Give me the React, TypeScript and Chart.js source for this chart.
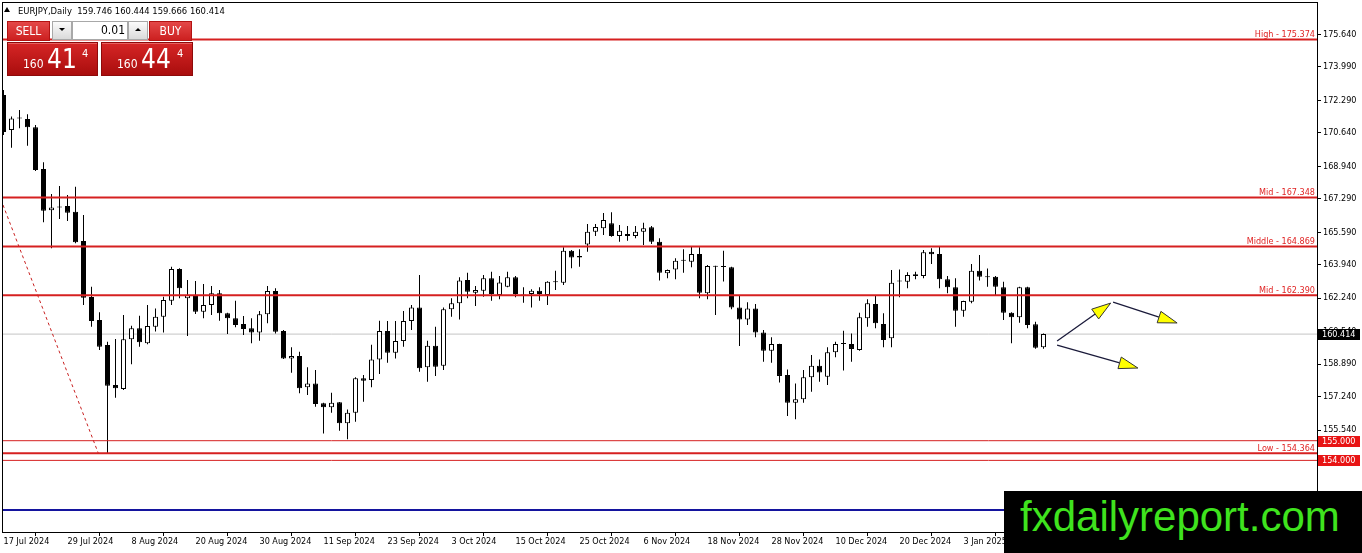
import React, { useEffect, useRef } from "react";
import { Chart, registerables } from "chart.js";

Chart.register(...registerables);

const FONT = "'DejaVu Sans Condensed', 'DejaVu Sans', sans-serif";

// ---- candle data (EURJPY daily) ----
const opens = [
  172.56, 170.78, 171.36, 171.34, 170.92, 168.8, 166.7, 166.84, 166.92, 166.63,
  165.14, 162.3, 161.13, 159.86, 157.83, 157.63, 160.15, 160.71, 159.95, 160.79,
  161.3, 162.11, 163.72, 162.23, 162.4, 161.55, 161.89, 162.49, 161.47, 161.22,
  160.93, 160.71, 160.5, 161.42, 162.6, 160.57, 159.18, 159.3, 157.71, 157.91,
  156.9, 156.7, 156.95, 155.88, 156.42, 158.17, 158.08, 159.13, 160.57, 159.47,
  160.06, 161.08, 161.77, 158.73, 159.82, 158.81, 161.67, 161.98, 163.16, 162.52,
  162.62, 163.25, 162.4, 162.82, 163.3, 162.38, 162.45, 162.62, 162.4, 163.05,
  163.02, 164.65, 164.38, 164.97, 165.61, 165.79, 166.04, 165.4, 165.5, 165.4,
  165.61, 165.84, 165.11, 163.5, 163.7, 164.14, 164.09, 164.48, 162.49, 163.84,
  163.85, 163.81, 161.77, 161.16, 161.72, 160.5, 159.57, 159.91, 158.34, 156.93,
  157.1, 158.22, 158.81, 158.25, 159.49, 159.91, 159.91, 159.61, 161.22, 161.94,
  160.93, 160.2, 163.09, 163.07, 163.37, 163.36, 164.6, 164.48, 163.2, 162.79,
  161.6, 162.06, 163.63, 163.33, 163.33, 162.79, 161.5, 161.27, 162.79, 160.91,
  159.746,
];
const highs = [
  172.81, 171.46, 171.8, 171.58, 171.03, 169.14, 167.53, 167.93, 167.48, 167.9,
  166.46, 162.82, 161.52, 160.03, 160.17, 161.38, 160.84, 161.35, 161.89, 161.72,
  162.31, 163.84, 163.76, 163.16, 163.11, 162.96, 162.86, 162.65, 161.5, 162.11,
  161.33, 161.22, 161.59, 162.86, 162.74, 160.62, 159.74, 159.52, 158.73, 158.59,
  156.93, 157.44, 156.97, 156.59, 158.22, 158.34, 159.87, 161.09, 161.08, 161.08,
  161.59, 161.89, 163.41, 160.08, 160.79, 161.77, 162.23, 163.3, 163.53, 162.86,
  163.41, 163.58, 163.36, 163.58, 163.36, 162.79, 162.69, 162.79, 163.1, 163.63,
  164.82, 164.68, 164.72, 166.01, 166.01, 166.56, 166.6, 165.95, 165.9, 165.9,
  166.07, 165.9, 165.28, 163.7, 164.26, 164.72, 164.89, 164.82, 163.92, 163.88,
  164.65, 163.84, 162.35, 162.03, 161.94, 160.62, 160.25, 159.93, 158.62, 157.91,
  158.59, 159.35, 159.13, 159.74, 160.03, 160.58, 160.45, 161.5, 162.18, 162.4,
  161.47, 163.67, 163.7, 163.55, 163.58, 164.68, 164.77, 164.85, 163.36, 163.25,
  162.11, 163.97, 164.43, 163.75, 163.36, 163.07, 161.52, 162.82, 162.82, 161.04,
  160.444,
];
const lows = [
  170.53, 169.88, 170.87, 169.98, 168.7, 166.09, 164.77, 166.26, 166.16, 165.03,
  161.89, 160.79, 159.61, 154.364, 157.18, 157.57, 158.88, 159.77, 159.9, 160.54,
  160.49, 161.89, 162.23, 160.32, 161.43, 161.22, 161.38, 161.09, 160.42, 160.76,
  160.37, 159.95, 160.08, 160.96, 160.45, 159.15, 158.45, 157.41, 157.32, 156.72,
  155.37, 156.42, 155.51, 155.07, 155.96, 156.98, 157.71, 158.39, 158.96, 159.18,
  159.77, 160.62, 158.5, 158.0, 158.29, 158.59, 161.3, 161.16, 162.23, 161.84,
  162.31, 162.11, 162.18, 162.79, 162.28, 162.01, 161.77, 162.11, 161.89, 162.65,
  162.91, 163.76, 163.84, 164.6, 165.4, 165.45, 165.36, 165.11, 165.16, 165.28,
  164.94, 164.99, 163.13, 163.25, 163.2, 163.53, 163.81, 162.23, 162.18, 161.38,
  163.08, 161.67, 159.81, 160.88, 160.25, 159.01, 158.96, 157.95, 156.25, 156.09,
  156.93, 157.49, 158.0, 157.83, 159.24, 158.56, 159.01, 159.57, 160.79, 160.71,
  159.74, 159.74, 162.28, 162.74, 163.2, 163.25, 163.97, 162.74, 162.49, 160.79,
  161.3, 161.98, 163.13, 162.82, 162.4, 161.13, 159.95, 160.99, 160.71, 159.67,
  159.666,
];
const closes = [
  170.68, 171.37, 171.38, 170.92, 168.75, 166.68, 166.85, 166.86, 166.58, 165.08,
  162.26, 161.08, 159.77, 157.79, 157.66, 160.15, 160.71, 160.0, 160.83, 161.3,
  162.15, 163.72, 162.74, 162.4, 161.55, 161.89, 162.49, 161.47, 161.22, 160.88,
  160.67, 160.5, 161.42, 162.6, 160.53, 159.18, 159.3, 157.66, 157.91, 156.86,
  156.7, 156.93, 155.88, 156.42, 158.17, 158.05, 159.13, 160.57, 159.47, 160.06,
  161.08, 161.77, 158.68, 159.82, 158.76, 161.67, 161.98, 163.13, 162.57, 162.65,
  163.25, 162.45, 163.04, 163.3, 162.45, 162.42, 162.62, 162.45, 163.07, 163.09,
  164.65, 164.31, 164.31, 165.61, 165.85, 166.21, 165.4, 165.66, 165.4, 165.61,
  165.79, 165.11, 163.53, 163.67, 164.14, 164.18, 164.48, 162.52, 163.87, 163.86,
  163.82, 161.77, 161.16, 161.72, 160.5, 159.57, 159.91, 158.29, 156.93, 157.1,
  158.22, 158.81, 158.47, 159.49, 159.91, 159.94, 159.66, 161.27, 161.98, 160.96,
  160.11, 163.02, 163.13, 163.41, 163.45, 164.57, 164.47, 163.2, 162.79, 161.6,
  162.1, 163.63, 163.33, 163.3, 162.82, 161.5, 161.27, 162.79, 160.88, 159.72,
  160.414,
];

// ---- axes ----
const xTickIndex = [0, 8, 16, 24, 32, 40, 48, 56, 64, 72, 80, 88, 96, 104, 112, 120];
const xTickLabels = [
  "17 Jul 2024", "29 Jul 2024", "8 Aug 2024", "20 Aug 2024", "30 Aug 2024",
  "11 Sep 2024", "23 Sep 2024", "3 Oct 2024", "15 Oct 2024", "25 Oct 2024",
  "6 Nov 2024", "18 Nov 2024", "28 Nov 2024", "10 Dec 2024", "20 Dec 2024",
  "3 Jan 2025",
];
const yTickValues = [
  175.64, 173.99, 172.29, 170.64, 168.94, 167.29, 165.59, 163.94, 162.24,
  160.54, 158.89, 157.24, 155.54, 153.89, 152.19,
];
const X_MIN = -0.0625;
const X_MAX = 164.1875;
const Y_MIN = 150.363;
const Y_MAX = 177.23;

// ---- drawn objects ----
const levelNames = ["High", "Mid", "Middle", "Mid", "Low"];
const levelValues = [175.374, 167.348, 164.869, 162.39, 154.364];
const thinLevels = [155.0, 154.0];
const bidPrice = 160.414;
const blueLevel = 151.48;
const trendX = [-0.06, 11.85];
const trendY = [166.97, 154.364];
const arrowFromX = [131.7, 138.7, 131.7];
const arrowFromY = [160.06, 162.04, 159.86];
const arrowToX = [138.4, 146.7, 141.8];
const arrowToY = [161.99, 160.98, 158.69];

const RED = "#d62020";

const overlayPlugin = {
  id: "overlay",
  afterDatasetsDraw(chart: any) {
    const { ctx, chartArea: a, scales } = chart;
    const x = scales.x;
    const y = scales.y;
    ctx.save();
    // level captions
    ctx.font = `9px ${FONT}`;
    ctx.fillStyle = "#e02424";
    ctx.textAlign = "right";
    ctx.textBaseline = "alphabetic";
    levelValues.forEach((v, i) => {
      const py = y.getPixelForValue(v);
      ctx.fillText(`${levelNames[i]} - ${v.toFixed(3)}`, a.right - 2, py - 2.5);
    });
    // arrows
    for (let i = 0; i < arrowFromX.length; i++) {
      const x0 = x.getPixelForValue(arrowFromX[i]);
      const y0 = y.getPixelForValue(arrowFromY[i]);
      const x1 = x.getPixelForValue(arrowToX[i]);
      const y1 = y.getPixelForValue(arrowToY[i]);
      const ang = Math.atan2(y1 - y0, x1 - x0);
      const len = 19;
      const hw = 6;
      const bx = x1 - Math.cos(ang) * len;
      const by = y1 - Math.sin(ang) * len;
      ctx.strokeStyle = "#1a1a3a";
      ctx.lineWidth = 1.3;
      ctx.beginPath();
      ctx.moveTo(x0, y0);
      ctx.lineTo(bx, by);
      ctx.stroke();
      ctx.beginPath();
      ctx.moveTo(x1, y1);
      ctx.lineTo(bx - Math.sin(ang) * hw, by + Math.cos(ang) * hw);
      ctx.lineTo(bx + Math.sin(ang) * hw, by - Math.cos(ang) * hw);
      ctx.closePath();
      ctx.fillStyle = "#ffff00";
      ctx.fill();
      ctx.lineWidth = 1;
      ctx.strokeStyle = "#333333";
      ctx.stroke();
    }
    // frame
    ctx.strokeStyle = "#000";
    ctx.lineWidth = 1;
    ctx.strokeRect(a.left - 0.5, a.top - 0.5, a.right - a.left + 1, a.bottom - a.top + 1);
    ctx.restore();
  },
  afterDraw(chart: any) {
    const { ctx, chartArea: a, scales } = chart;
    const y = scales.y;
    ctx.save();
    ctx.font = `9px ${FONT}`;
    ctx.textAlign = "left";
    ctx.textBaseline = "middle";
    const box = (v: number, bg: string) => {
      const py = y.getPixelForValue(v);
      ctx.fillStyle = bg;
      ctx.fillRect(a.right + 1, Math.round(py) - 5, 42, 11);
      ctx.fillStyle = "#ffffff";
      ctx.fillText(v.toFixed(3), a.right + 5, Math.round(py) + 0.5);
    };
    box(bidPrice, "#000000");
    thinLevels.forEach((v) => box(v, "#e81414"));
    ctx.restore();
  },
};

function hline(v: number, color: string, width: number, order: number) {
  return {
    type: "line" as const,
    data: [
      { x: X_MIN, y: v },
      { x: X_MAX, y: v },
    ],
    borderColor: color,
    borderWidth: width,
    pointRadius: 0,
    order,
  };
}

export default function App() {
  const canvasRef = useRef<HTMLCanvasElement>(null);

  useEffect(() => {
    document.body.style.margin = "0";
    const idx = opens.map((_, i) => i);
    const bodyData = idx.map((i) => ({ x: i, y: [opens[i], closes[i]] }));
    const wickData = idx.map((i) => ({ x: i, y: [lows[i], highs[i]] }));
    const bodyColors = idx.map((i) => (closes[i] > opens[i] ? "#ffffff" : "#000000"));

    const datasets: any[] = [
      {
        type: "bar",
        data: bodyData,
        backgroundColor: bodyColors,
        borderColor: "#000000",
        borderWidth: 1,
        borderSkipped: false,
        barThickness: 5,
        grouped: false,
        minBarLength: 1,
        inflateAmount: 0,
        order: 1,
      },
      {
        type: "bar",
        data: wickData,
        backgroundColor: "#000000",
        borderWidth: 0,
        barThickness: 1,
        grouped: false,
        inflateAmount: 0,
        order: 2,
      },
      ...levelValues.map((v) => hline(v, RED, 2, 0)),
      ...thinLevels.map((v) => hline(v, RED, 1, 0)),
      hline(bidPrice, "#c4c4c4", 1, 3),
      hline(blueLevel, "#14149e", 2, 3),
      {
        type: "line",
        data: trendX.map((v, i) => ({ x: v, y: trendY[i] })),
        borderColor: "#c82020",
        borderWidth: 1,
        borderDash: [3, 3],
        pointRadius: 0,
        order: 0,
      },
    ];

    const chart = new Chart(canvasRef.current!, {
      type: "bar",
      data: { datasets },
      plugins: [overlayPlugin],
      options: {
        animation: false,
        responsive: false,
        events: [],
        layout: { padding: { left: 3, top: 3, right: 0, bottom: 0 }, autoPadding: false },
        plugins: { legend: { display: false }, tooltip: { enabled: false } },
        scales: {
          x: {
            type: "linear",
            min: X_MIN,
            max: X_MAX,
            offset: false,
            border: { display: false },
            grid: { drawOnChartArea: false, drawTicks: true, tickLength: 4, color: "#000000" },
            ticks: {
              autoSkip: false,
              maxRotation: 0,
              minRotation: 0,
              align: "start",
              padding: 0,
              color: "#000000",
              font: { family: FONT, size: 9 },
              callback: (_v: any, i: number) => xTickLabels[i],
            },
            afterBuildTicks: (s: any) => {
              s.ticks = xTickIndex.map((v) => ({ value: v }));
            },
            afterFit: (s: any) => {
              s.height = 21;
              s.paddingLeft = 0;
              s.paddingRight = 0;
              s.paddingTop = 0;
              s.paddingBottom = 0;
            },
          },
          y: {
            type: "linear",
            position: "right",
            min: Y_MIN,
            max: Y_MAX,
            beginAtZero: false,
            border: { display: false },
            grid: { drawOnChartArea: false, drawTicks: true, tickLength: 4, color: "#000000" },
            ticks: {
              autoSkip: false,
              padding: 2,
              color: "#000000",
              font: { family: FONT, size: 9 },
              callback: (v: any) => Number(v).toFixed(3),
            },
            afterBuildTicks: (s: any) => {
              s.ticks = yTickValues.map((v) => ({ value: v }));
            },
            afterFit: (s: any) => {
              s.width = 45;
              s.paddingLeft = 0;
              s.paddingRight = 0;
              s.paddingTop = 0;
              s.paddingBottom = 0;
            },
          },
        },
      } as any,
    });
    return () => chart.destroy();
  }, []);

  const abs = (l: number, t: number, extra: any = {}) => ({
    position: "absolute" as const,
    left: l,
    top: t,
    ...extra,
  });
  const btn = {
    background: "linear-gradient(#e44848, #cc2020)",
    border: "1px solid #b31212",
    boxSizing: "border-box" as const,
    color: "#fff",
    fontFamily: FONT,
    fontSize: 12,
    textAlign: "center" as const,
    lineHeight: "18px",
  };
  const big = {
    background: "linear-gradient(#d62626, #a90d0d)",
    border: "1px solid #8e0a0a",
    boxShadow: "inset 0 1px 0 #e86060",
    boxSizing: "border-box" as const,
  };
  const arrowBox = {
    background: "linear-gradient(#fbfbfb, #dadada)",
    border: "1px solid #a8a8a8",
    boxSizing: "border-box" as const,
  };
  const txt = (size: number) => ({
    fontFamily: FONT,
    fontSize: size,
    lineHeight: `${size}px`,
    color: "#fff",
    whiteSpace: "pre" as const,
  });

  return (
    <div
      style={{
        position: "fixed",
        left: 0,
        top: 0,
        width: 1362,
        height: 553,
        background: "#ffffff",
        overflow: "hidden",
      }}
    >
      <canvas ref={canvasRef} width={1362} height={553} style={{ position: "absolute", left: 0, top: 0 }} />

      {/* header */}
      <div style={abs(4, 7, { width: 0, height: 0, borderLeft: "3px solid transparent", borderRight: "3px solid transparent", borderBottom: "5px solid #000" })} />
      <div style={abs(18, 5.8, { ...txt(9.4), color: "#000" })}>{"EURJPY,Daily  159.746 160.444 159.666 160.414"}</div>

      {/* one-click trading panel */}
      <div style={abs(7, 21, { ...btn, width: 43, height: 20 })}>SELL</div>
      <div style={abs(52, 21, { ...arrowBox, width: 20, height: 19 })} />
      <div style={abs(59, 28, { width: 0, height: 0, borderLeft: "3px solid transparent", borderRight: "3px solid transparent", borderTop: "3px solid #000" })} />
      <div style={abs(72, 21, { width: 56, height: 19, background: "#fff", border: "1px solid #a8a8a8", boxSizing: "border-box" })} />
      <div style={abs(72, 23.5, { ...txt(12), color: "#000", width: 53, textAlign: "right" })}>0.01</div>
      <div style={abs(128, 21, { ...arrowBox, width: 20, height: 19 })} />
      <div style={abs(135, 28, { width: 0, height: 0, borderLeft: "3px solid transparent", borderRight: "3px solid transparent", borderBottom: "3px solid #000" })} />
      <div style={abs(149, 21, { ...btn, width: 43, height: 20 })}>BUY</div>

      <div style={abs(7, 42, { ...big, width: 91, height: 34 })} />
      <div style={abs(101, 42, { ...big, width: 92, height: 34 })} />
      <div style={abs(23, 57.9, txt(12))}>160</div>
      <div style={abs(47, 46, txt(26))}>41</div>
      <div style={abs(82, 47.7, txt(11))}>4</div>
      <div style={abs(117, 57.9, txt(12))}>160</div>
      <div style={abs(141, 46, txt(26))}>44</div>
      <div style={abs(177, 47.7, txt(11))}>4</div>

      {/* logo */}
      <div style={abs(1004, 491, { width: 358, height: 62, background: "#000" })}>
        <div
          style={{
            position: "absolute",
            left: 16,
            top: 5,
            fontFamily: "'Liberation Sans', Arial, sans-serif",
            fontSize: 42,
            lineHeight: "42px",
            color: "#3fe31e",
            whiteSpace: "pre",
          }}
        >
          fxdailyreport.com
        </div>
      </div>
    </div>
  );
}
